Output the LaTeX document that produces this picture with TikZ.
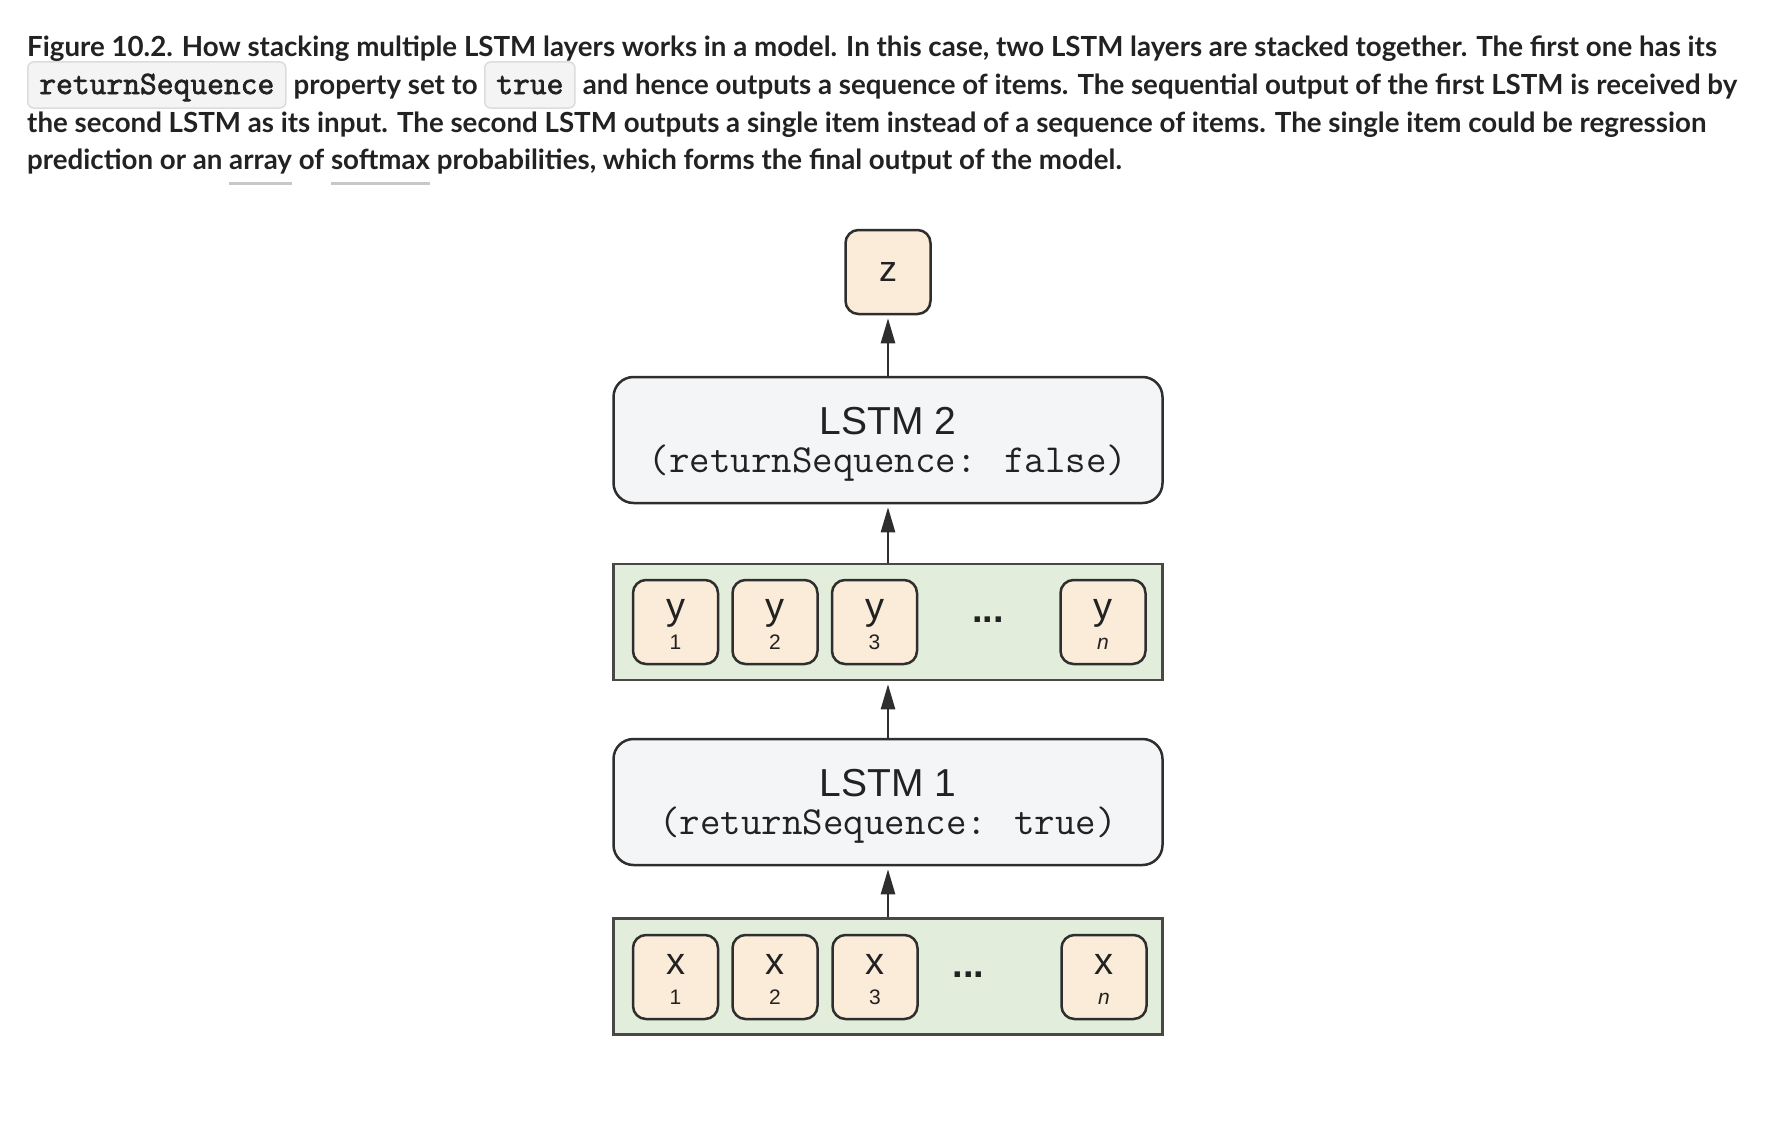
\documentclass[tikz,border=0pt]{standalone}
\usepackage{fontspec}
\setmainfont{Lato}
\newfontfamily\diafont{Liberation Sans}
\newfontfamily\chipfont{Latin Modern Mono}[FakeBold=2.2]
\usetikzlibrary{arrows.meta}
\definecolor{ink}{HTML}{222222}
\definecolor{chipfill}{HTML}{F4F4F4}
\definecolor{chipline}{HTML}{DCDCDC}
\definecolor{ulgray}{HTML}{C8C8C8}
\definecolor{peach}{HTML}{FBEBD9}
\definecolor{grpgreen}{HTML}{E2EEDB}
\definecolor{lstmfill}{HTML}{F4F5F7}
\definecolor{edge}{HTML}{2E2E2E}
\definecolor{grpedge}{HTML}{484848}
\newcommand\ulword[1]{\setbox0\hbox{#1}\rlap{\textcolor{ulgray}{\rule[-15.5pt]{\wd0}{3.5pt}}}\box0\relax}
\begin{document}
\begin{tikzpicture}[x=1pt,y=-1pt,
  captxt/.style={anchor=base west,inner sep=0pt,text=ink,font=\fontsize{27.7}{30}\selectfont\bfseries},
  chip/.style={anchor=base west,draw=chipline,fill=chipfill,line width=1.5pt,rounded corners=6pt,
    inner xsep=11.5pt,inner ysep=0pt,text height=32pt,text depth=14pt,text=ink,
    font=\chipfont\fontsize{32.6}{32}\selectfont},
  lstm/.style={draw=edge,fill=lstmfill,line width=2.5pt,rounded corners=20pt,
    minimum width=549pt,minimum height=126pt,inner sep=0pt,text height=30pt,text depth=41pt,
    text=ink,font=\diafont\fontsize{39}{40}\selectfont},
  monotxt/.style={anchor=base,inner sep=0pt,text=ink,font=\ttfamily\fontsize{39.8}{40}\selectfont},
  grp/.style={draw=grpedge,fill=grpgreen,line width=2.5pt,minimum width=549pt,minimum height=116pt,inner sep=0pt},
  zcell/.style={draw=edge,fill=peach,line width=2.5pt,rounded corners=13pt,
    minimum width=85pt,minimum height=84pt,inner sep=0pt,text=ink,font=\diafont\fontsize{36}{40}\selectfont},
  cell/.style={zcell,text height=36pt,text depth=42pt,font=\diafont\fontsize{38}{40}\selectfont},
  subtxt/.style={anchor=base,inner sep=0pt,text=ink,font=\diafont\fontsize{21}{22}\selectfont},
  dotstxt/.style={anchor=base,inner sep=0pt,text=ink,font=\diafont\bfseries\fontsize{38}{40}\selectfont},
  arr/.style={draw=edge,line width=2.5pt,-{Triangle[length=25pt,width=14pt]},shorten >=3pt}
]
\fill[white] (0,0) rectangle (1772,1124);
\useasboundingbox (0,0) rectangle (1772,1124);

% caption
\node[captxt] (l1) at (27,57) {Figure 10.2. How stacking multiple LSTM layers works in a model. In this case, two LSTM layers are stacked together. The first one has its};
\node[chip] (c1) at (27,94) {returnSequence};
\node[captxt] (l2a) at ([xshift=7pt]c1.base east) {property set to};
\node[chip] (c2) at ([xshift=6pt]l2a.base east) {true};
\node[captxt] (l2b) at ([xshift=7pt]c2.base east) {and hence outputs a sequence of items. The sequential output of the first LSTM is received by};
\node[captxt] (l3) at (27,132) {the second LSTM as its input. The second LSTM outputs a single item instead of a sequence of items. The single item could be regression};
\node[captxt] (l4) at (27,169.5) {prediction or an \ulword{array} of \ulword{softmax} probabilities, which forms the final output of the model.};

% diagram
\node[zcell] (z) at (888,272) {z};
\node[lstm] (lstm2) at (888,440) {LSTM 2};
\node[monotxt] (lstm2t) at ([yshift=-32.5pt]lstm2.center) {(returnSequence: false)};

\node[grp] (ygrp) at (888,622) {};
\node[cell] (y1) at (675.5,622) {y};
\node[cell] (y2) at (775,622) {y};
\node[cell] (y3) at (874.5,622) {y};
\node[cell] (yn) at (1103,622) {y};
\node[subtxt] (y1s) at ([yshift=-27pt]y1.center) {1};
\node[subtxt] (y2s) at ([yshift=-27pt]y2.center) {2};
\node[subtxt] (y3s) at ([yshift=-27pt]y3.center) {3};
\node[subtxt] (yns) at ([yshift=-27pt]yn.center) {\itshape n};
\node[dotstxt] (ydots) at (988,622) {...};

\node[lstm] (lstm1) at (888,802) {LSTM 1};
\node[monotxt] (lstm1t) at ([yshift=-32.5pt]lstm1.center) {(returnSequence: true)};

\node[grp] (xgrp) at (888,976.5) {};
\node[cell] (x1) at (675.5,977) {x};
\node[cell] (x2) at (775,977) {x};
\node[cell] (x3) at (875,977) {x};
\node[cell] (xn) at (1104,977) {x};
\node[subtxt] (x1s) at ([yshift=-27pt]x1.center) {1};
\node[subtxt] (x2s) at ([yshift=-27pt]x2.center) {2};
\node[subtxt] (x3s) at ([yshift=-27pt]x3.center) {3};
\node[subtxt] (xns) at ([yshift=-27pt]xn.center) {\itshape n};
\node[dotstxt] (xdots) at (968.5,977) {...};

\draw[arr] (lstm2.north) -- (z.south);
\draw[arr] (ygrp.north) -- (lstm2.south);
\draw[arr] (lstm1.north) -- (ygrp.south);
\draw[arr] (xgrp.north) -- (lstm1.south);
\end{tikzpicture}
\end{document}
